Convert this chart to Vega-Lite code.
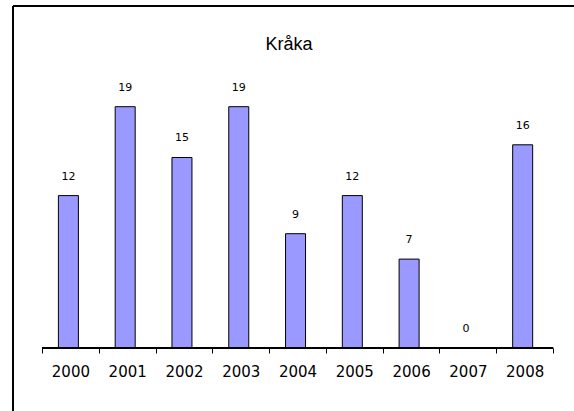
{
  "$schema": "https://vega.github.io/schema/vega-lite/v6.json",
  "width": 561,
  "height": 405,
  "autosize": "none",
  "padding": {"left": 13, "top": 6, "right": 0, "bottom": 0},
  "background": "white",
  "config": {"view": {"stroke": null}, "font": "Liberation Sans"},
  "title": {"text": "Kråka", "anchor": "middle", "offset": -63, "baseline": "alphabetic", "fontSize": 18, "fontWeight": "normal", "font": "Liberation Sans", "dx": -4.5, "color": "black"},
  "data": {"values": [
    {"year": 2000, "count": 12},
    {"year": 2001, "count": 19},
    {"year": 2002, "count": 15},
    {"year": 2003, "count": 19},
    {"year": 2004, "count": 9},
    {"year": 2005, "count": 12},
    {"year": 2006, "count": 7},
    {"year": 2007, "count": 0},
    {"year": 2008, "count": 16}
  ]},
  "layer": [
    {
      "mark": {"type": "bar", "width": 20, "fill": "#9999FF", "stroke": "black", "strokeWidth": 1, "xOffset": -2},
      "encoding": {
        "x": {"field": "year", "type": "quantitative",
          "scale": {"domain": [1998.989, 2008.869], "nice": false, "zero": false, "padding": 0},
          "axis": {"values": [1999.5, 2000.5, 2001.5, 2002.5, 2003.5, 2004.5, 2005.5, 2006.5, 2007.5, 2008.5],
            "domain": false, "grid": false, "offset": -63, "tickSize": 5, "tickColor": "black", "tickWidth": 1,
            "labelExpr": "datum.value < 2008 ? format(datum.value + 0.5, 'd') : ''",
            "labelOffset": 28.4, "labelPadding": 11, "labelFont": "DejaVu Sans", "labelFontSize": 15,
            "labelColor": "black", "title": null, "labelFlush": false, "labelOverlap": false, "labelBound": false}},
        "y": {"field": "count", "type": "quantitative", "scale": {"domain": [-4.961, 26.929], "nice": false, "zero": false, "padding": 0}, "axis": null},
        "y2": {"datum": 0}
      }
    },
    {
      "mark": {"type": "text", "dy": -16, "baseline": "alphabetic", "font": "DejaVu Sans", "fontSize": 11, "color": "black", "xOffset": -2},
      "encoding": {
        "x": {"field": "year", "type": "quantitative"},
        "y": {"field": "count", "type": "quantitative"},
        "text": {"field": "count"}
      }
    },
    {
      "mark": {"type": "rule", "color": "black", "strokeWidth": 1.5},
      "encoding": {
        "x": {"datum": 1999.5},
        "x2": {"datum": 2008.5},
        "y": {"datum": 0}
      }
    },
    {
      "mark": {"type": "rule", "color": "black", "strokeWidth": 2},
      "encoding": {
        "x": {"datum": 1998.989}
      }
    },
    {
      "mark": {"type": "rule", "color": "black", "strokeWidth": 2},
      "encoding": {
        "y": {"datum": 26.929}
      }
    }
  ]
}
